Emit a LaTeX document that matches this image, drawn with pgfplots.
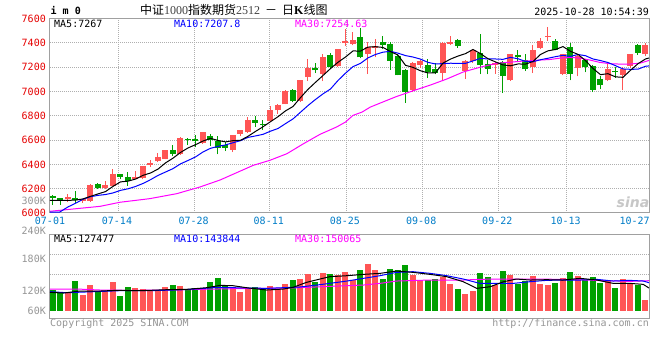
\documentclass[border=0pt]{standalone}
\usepackage{pgfplots}
\pgfplotsset{compat=1.18}
\usepackage{pgfplotstable}
\usepackage{fontspec}
\setmainfont{DejaVu Sans}
\setmonofont{DejaVu Sans Mono}
\newfontfamily\cjk{Noto Sans CJK SC}
\newfontfamily\digf{Liberation Serif}
\definecolor{cred}{RGB}{255,85,85}
\definecolor{cgreen}{RGB}{0,160,0}
\definecolor{clab}{RGB}{230,0,0}
\definecolor{cxl}{RGB}{0,125,200}
\definecolor{cgray}{RGB}{150,150,150}
\definecolor{cgrid}{RGB}{175,175,175}
\definecolor{cborder}{RGB}{160,160,160}
\definecolor{cblue}{RGB}{0,0,255}
\definecolor{cmag}{RGB}{255,0,255}
\newcommand\lf{\fontsize{10bp}{12bp}\selectfont\ttfamily}

\pgfplotstableread{
i o h l c up v
0 6140 6148 6068 6123 0 122
1 6123 6126 6068 6110 0 117
2 6112 6153 6090 6129 1 117
3 6121 6178 6085 6104 0 149
4 6099 6118 6085 6112 1 107
5 6099 6236 6093 6230 1 137
6 6238 6244 6200 6208 0 119
7 6205 6260 6200 6227 1 120
8 6225 6359 6219 6318 1 147
9 6318 6323 6277 6296 0 104
10 6296 6337 6225 6260 0 131
11 6277 6348 6277 6293 1 128
12 6290 6386 6277 6384 1 125
13 6395 6433 6378 6411 1 122
14 6425 6496 6419 6458 1 119
15 6447 6515 6441 6515 1 131
16 6515 6556 6468 6488 0 137
17 6485 6625 6479 6619 1 134
18 6611 6616 6559 6597 0 122
19 6605 6644 6540 6589 0 128
20 6575 6666 6570 6666 1 128
21 6636 6652 6551 6597 0 146
22 6589 6630 6482 6537 0 158
23 6556 6584 6510 6537 0 137
24 6521 6644 6501 6638 1 130
25 6652 6685 6630 6680 1 117
26 6666 6789 6660 6762 1 129
27 6767 6795 6707 6740 0 131
28 6734 6762 6685 6726 0 124
29 6756 6882 6751 6849 1 134
30 6844 6893 6816 6885 1 124
31 6893 7014 6893 7000 1 140
32 7014 7022 6912 6918 0 152
33 6918 7090 6912 7090 1 155
34 7118 7266 7085 7192 1 170
35 7189 7236 7151 7173 0 147
36 7140 7304 7085 7282 1 173
37 7299 7315 7195 7200 0 170
38 7206 7351 7200 7351 1 167
39 7397 7510 7373 7415 1 177
40 7390 7490 7378 7424 1 152
41 7447 7522 7271 7281 0 182
42 7308 7404 7143 7363 1 200
43 7357 7430 7281 7371 1 182
44 7407 7460 7347 7380 0 155
45 7390 7407 7180 7253 0 185
46 7294 7310 7133 7133 0 182
47 7179 7184 6905 6995 0 197
48 7010 7241 6995 7234 1 167
49 7220 7262 7195 7248 1 152
50 7220 7266 7110 7160 0 152
51 7188 7234 7140 7152 0 155
52 7152 7405 7085 7398 1 162
53 7390 7452 7380 7404 1 140
54 7425 7435 7359 7371 0 125
55 7171 7260 7104 7253 1 110
56 7248 7345 7235 7338 1 120
57 7316 7470 7140 7220 0 173
58 7226 7260 7140 7188 0 161
59 7215 7241 7145 7234 1 137
60 7241 7249 6986 7126 0 179
61 7090 7310 7085 7304 1 167
62 7296 7343 7241 7282 0 140
63 7260 7304 7167 7181 0 149
64 7200 7378 7151 7337 1 164
65 7356 7441 7345 7414 1 140
66 7447 7534 7419 7455 1 137
67 7419 7433 7337 7337 0 143
68 7145 7310 7132 7304 1 158
69 7364 7397 7090 7140 0 176
70 7195 7310 7123 7288 1 164
71 7260 7269 7156 7200 0 152
72 7208 7214 6995 7014 0 161
73 7099 7123 7016 7049 0 143
74 7090 7233 7085 7181 1 152
75 7167 7200 7112 7156 0 128
76 7137 7200 7008 7181 1 156
77 7206 7310 7195 7304 1 142
78 7378 7392 7301 7318 0 138
79 7304 7397 7288 7378 1 92
}\kd

\pgfplotsset{
  sina/.style={
    scale only axis, width=599bp, xmin=-0.4, xmax=79.47,
    axis line style={draw=cborder, line width=1bp},
    tick style={draw=none}, major tick length=0pt, minor tick length=0pt,
    yticklabel style={font=\lf, inner sep=0pt}, yticklabel shift=4bp,
    xticklabel style={font=\lf, text=cxl, inner sep=0pt}, xticklabel shift=4bp,
    minor xtick={8.71,18.84,28.93,39.16,49.29,59.37,68.49},
    xminorgrids=true,
    grid style={draw=cgrid, line width=1bp, dash pattern=on 1bp off 1bp},
    minor grid style={draw=cgrid, line width=1bp, dash pattern=on 1bp off 1bp},
  },
  wick/.style={draw=none, mark=none, forget plot,
    error bars/y dir=plus, error bars/y explicit, error bars/error mark=none,
    error bars/error bar style={line width=1bp, draw=#1, solid}},
  body/.style={draw=none, mark=none, forget plot,
    error bars/y dir=plus, error bars/y explicit, error bars/error mark=none,
    error bars/error bar style={line width=6bp, draw=#1, solid}},
}

\begin{document}
\begin{tikzpicture}
\path[use as bounding box, fill=white] (0,0) rectangle (660bp,360bp);

\begin{axis}[sina,
  at={(50bp,147bp)}, anchor=south west, height=194.5bp,
  ymin=6000, ymax=7600,
  ytick={6000,6200,6400,6600,6800,7000,7200,7400,7600},
  yticklabels={6000,6200,6400,6600,6800,7000,7200,7400,7600},
  yticklabel style={text=clab},
  ymajorgrids=true,
  xtick={-0.4,8.53,18.76,28.77,38.93,49.1,59.24,68.36,77.56},
  xticklabels={07-01,07-14,07-28,08-11,08-25,09-08,09-22,10-13,10-27},
  extra y ticks={6101}, extra y tick labels={300K},
  extra y tick style={grid=none, yticklabel style={text=cgray}},
]
% up candles
\addplot[restrict expr to domain={\thisrow{up}}{0.5:1.5}, wick=cred]
  table[x=i, y=l, y error plus expr=\thisrow{h}-\thisrow{l}] {\kd};
\addplot[restrict expr to domain={\thisrow{up}}{0.5:1.5}, body=cred]
  table[x=i, y expr={min(\thisrow{o},\thisrow{c})}, y error plus expr={max(abs(\thisrow{c}-\thisrow{o}),8)}] {\kd};
% down candles
\addplot[restrict expr to domain={\thisrow{up}}{-0.5:0.5}, wick=cgreen]
  table[x=i, y=l, y error plus expr=\thisrow{h}-\thisrow{l}] {\kd};
\addplot[restrict expr to domain={\thisrow{up}}{-0.5:0.5}, body=cgreen]
  table[x=i, y expr={min(\thisrow{o},\thisrow{c})}, y error plus expr={max(abs(\thisrow{c}-\thisrow{o}),8)}] {\kd};
% MA30
\addplot[cmag, line width=1bp, mark=none] coordinates {
(-0.4,6014)(6.3,6055)(8.9,6088)(12.9,6118)(16.5,6159)(19.6,6214)(22.3,6272)
(26.7,6392)(28.9,6433)(31.2,6488)(33.4,6570)(35.6,6647)(37.8,6707)(39.0,6748)
(40.0,6803)(41.2,6830)(42.3,6871)(44.5,6926)(45.8,6958)(48.0,7005)(50.3,7052)
(52.5,7102)(54.7,7160)(57,7200)(59.2,7232)(60.9,7240)
(62.3,7248)(63.6,7252)(64.9,7258)(66.3,7263)(67.6,7274)(68.9,7280)(70.3,7274)
(71.6,7258)(72.9,7239)(74.3,7228)(75.6,7225)(76.9,7225)(78.3,7233)(79.47,7255)};
% MA10
\addplot[cblue, line width=1bp, mark=none] coordinates {
(-0.4,6008)(0.9,6008)(2,6050)(3,6080)(4,6113)(5,6134)(6,6145)(7,6152)(8,6165)
(9,6186)(10,6199)(11,6218)(12,6243)(13,6274)(14,6309)(15,6337)(16,6365)(17,6404)
(18,6432)(19,6461)(20,6502)(21,6532)(22,6548)(23,6560)(24,6578)(25,6595)(26,6622)
(27,6634)(28,6647)(29,6673)(30,6695)(31,6735)(32,6774)(33,6829)(34,6884)(35,6934)
(36,6980)(37,7020)(38,7090)(39,7150)(40,7204)(41,7231)(42,7276)(43,7304)(44,7323)
(45,7330)(46,7315)(47,7295)(48,7283)(49,7266)(50,7239)(51,7226)(52,7229)(53,7232)
(54,7231)(55,7231)(56,7251)(57,7272)(58,7267)(59,7267)(60,7264)(61,7280)(62,7269)
(63,7247)(64,7244)(65,7261)(66,7273)(67,7286)(68,7297)(69,7288)(70,7304)(71,7294)
(72,7267)(73,7254)(74,7238)(75,7212)(76,7185)(77,7182)(78,7183)(79,7207)(79.47,7210)};
% MA5
\addplot[black, line width=1bp, mark=none] coordinates {
(-0.4,6104)(0,6104)(1,6104)(2,6104)(3,6106)(4,6116)(5,6137)(6,6157)(7,6176)(8,6219)
(9,6256)(10,6262)(11,6279)(12,6310)(13,6329)(14,6361)(15,6412)(16,6451)(17,6498)
(18,6535)(19,6562)(20,6592)(21,6614)(22,6597)(23,6585)(24,6595)(25,6598)(26,6631)
(27,6671)(28,6709)(29,6751)(30,6792)(31,6840)(32,6876)(33,6949)(34,7017)(35,7075)
(36,7131)(37,7188)(38,7240)(39,7283)(40,7333)(41,7332)(42,7365)(43,7368)(44,7362)
(45,7328)(46,7299)(47,7215)(48,7198)(49,7170)(50,7152)(51,7153)(52,7233)(53,7266)
(54,7291)(55,7311)(56,7345)(57,7311)(58,7269)(59,7243)(60,7218)(61,7211)(62,7226)
(63,7225)(64,7246)(65,7304)(66,7334)(67,7345)(68,7369)(69,7330)(70,7305)(71,7254)
(72,7189)(73,7138)(74,7146)(75,7120)(76,7116)(77,7174)(78,7228)(79,7267)(79.47,7275)};
\end{axis}

\begin{axis}[sina,
  at={(50bp,41.7bp)}, anchor=south west, height=83.3bp,
  ymin=37.2, ymax=287.1,
  ytick={60,120,214.2}, yticklabels={60K,120K,180K},
  yticklabel style={text=cgray},
  minor ytick={167.1,227.1}, yminorgrids=true,
  xtick=\empty,
]
\addplot[restrict expr to domain={\thisrow{up}}{0.5:1.5}, body=cred]
  table[x=i, y expr=60, y error plus expr=\thisrow{v}-60] {\kd};
\addplot[restrict expr to domain={\thisrow{up}}{-0.5:0.5}, body=cgreen]
  table[x=i, y expr=60, y error plus expr=\thisrow{v}-60] {\kd};
% vol MA30
\addplot[cmag, line width=1bp, mark=none] coordinates {
(-0.4,125)(3.2,125)(6.3,122)(10.7,121)(15.2,122)(19.6,124)(24,126)(28.5,127)
(32.9,129)(36.9,133)(41.4,137)(43.6,142)(45.8,149)(50.3,152)(54.7,152)(56.9,154)
(59.2,155)(63.6,155)(68,154)(72.5,151)(76.9,148)(79.47,150)};
% vol MA10
\addplot[cblue, line width=1bp, mark=none] coordinates {
(-0.4,117)(1.8,114)(5.4,117)(8.9,120)(12.9,120)(17.4,123)(19.6,126)(21.8,130)
(24,129)(28.5,127)(30.7,129)(32.9,131)(35.2,137)(36.9,142)(39.2,149)(41.4,157)
(43.6,165)(45.8,175)(48,177)(50.3,172)(52.5,165)(54.7,155)(56.9,142)(59.2,142)
(61.4,142)(63.6,147)(65.8,151)(68,152)(70.3,152)(72.5,154)(74.7,149)(76.9,151)
(78.7,149)(79.47,144)};
% vol MA5
\addplot[black, line width=1bp, mark=none] coordinates {
(-0.4,115)(1.4,113)(3.6,119)(6.3,119)(8.5,121)(11.6,120)(15.2,123)(17.8,124)
(20.5,129)(22.3,136)(24,135)(25.8,129)(28.5,122)(30.7,125)(32,130)(33.8,145)
(35.6,155)(36.9,162)(39.2,165)(41.4,169)(43.6,172)(45.8,179)(48,175)(50.3,169)
(52.5,162)(54.7,147)(56.5,127)(58.3,132)(60.1,147)(61.8,155)(63.6,152)(65.8,153)
(68,152)(70.3,157)(72.5,152)(74.7,142)(76.9,142)(78.7,139)(79.47,128)};
\end{axis}

% texts
\node[anchor=west, inner sep=0pt, font=\lf\bfseries] at (50.5bp,349bp) {i m 0};
\node[anchor=west, inner sep=0pt] at (140bp,350bp)
  {\fontsize{12bp}{14bp}\selectfont\cjk 中证{\digf\color{black!75}1000}指数期货{\digf\color{black!75}2512}\hspace{5bp}－\hspace{5bp}日{\digf\bfseries K}线图};
\node[anchor=east, inner sep=0pt, font=\lf] at (649bp,348.3bp) {2025-10-28 10:54:39};
\node[anchor=west, inner sep=0pt, font=\lf] at (54bp,336bp) {MA5:7267};
\node[anchor=west, inner sep=0pt, font=\lf, text=cblue] at (174bp,336bp) {MA10:7207.8};
\node[anchor=west, inner sep=0pt, font=\lf, text=cmag] at (295bp,336bp) {MA30:7254.63};
\node[anchor=west, inner sep=0pt, font=\lf] at (54bp,121bp) {MA5:127477};
\node[anchor=west, inner sep=0pt, font=\lf, text=cblue] at (174bp,121bp) {MA10:143844};
\node[anchor=west, inner sep=0pt, font=\lf, text=cmag] at (295bp,121bp) {MA30:150065};
\node[anchor=east, inner sep=0pt, font=\lf, text=cgray] at (46bp,129.3bp) {240K};
\node[anchor=west, inner sep=0pt, font=\lf, text=cgray] at (50bp,36.2bp) {Copyright 2025 SINA.COM};
\node[anchor=east, inner sep=0pt, font=\lf, text=cgray] at (649bp,36.2bp) {http://finance.sina.com.cn};
\node[inner sep=0pt, font=\fontsize{14bp}{14bp}\selectfont\bfseries\itshape, text=black!22] at (633bp,158bp) {sina};
\end{tikzpicture}
\end{document}
